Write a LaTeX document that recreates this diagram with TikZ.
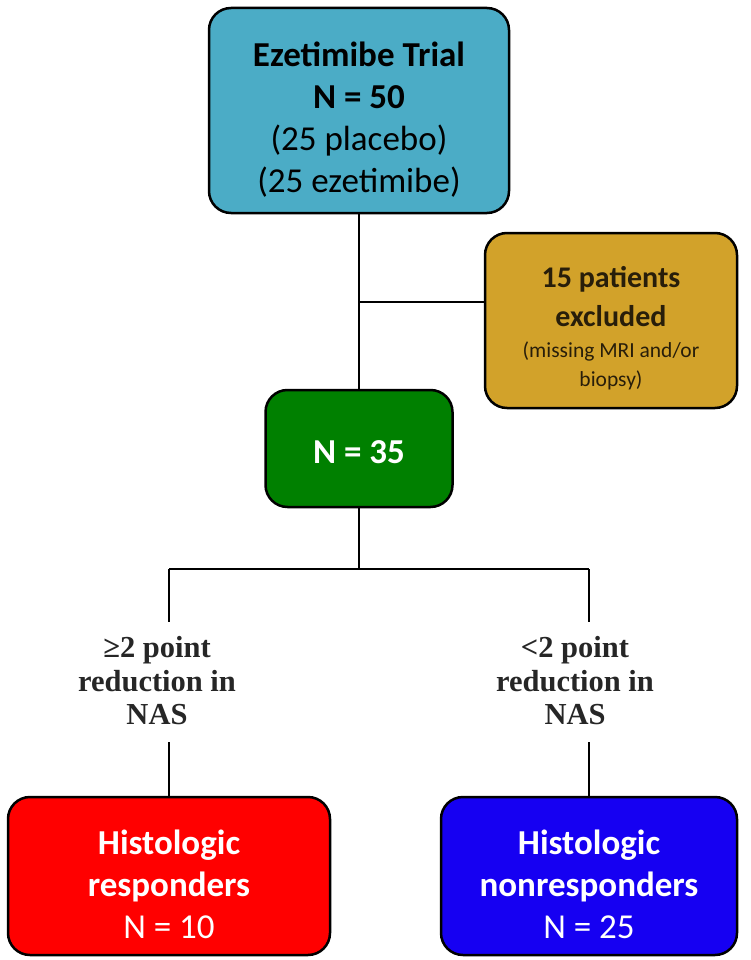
\documentclass[tikz,border=0pt]{standalone}
\usepackage{fontspec}
\setmainfont{Carlito}
\newfontfamily\labelfont{Liberation Serif}
\definecolor{trialblue}{RGB}{75,172,198}
\definecolor{exclgold}{RGB}{210,162,42}
\definecolor{exclink}{RGB}{40,30,10}
\definecolor{n35green}{RGB}{0,128,0}
\definecolor{respred}{RGB}{255,0,0}
\definecolor{nonrespblue}{RGB}{22,0,242}
\newcommand{\topstrut}[1]{\rule{0pt}{#1}}
\begin{document}
\begin{tikzpicture}[x=1pt,y=-1pt,
  box/.style={draw=black,line width=2.5pt,rounded corners=22pt,align=center,inner sep=0pt},
  conn/.style={draw,line width=1.6pt},
  cond/.style={align=center,text=black!85,font=\labelfont\bfseries\fontsize{30.5}{33.5}\selectfont}]
\useasboundingbox (0,0) rectangle (751,960);

% boxes
\node[box,fill=trialblue,minimum width=300,minimum height=205,
  font=\fontsize{35}{42}\selectfont] (trial) at (359,110.5)
  {\topstrut{42pt}\textbf{Ezetimibe Trial}\\ \textbf{N = 50}\\ (25 placebo)\\ (25 ezetimibe)};
\node[box,fill=exclgold,text=exclink,minimum width=252,minimum height=175,
  font=\fontsize{30}{36}\selectfont] (excl) at (611,320.5)
  {\topstrut{36pt}\textbf{15 patients}\\[3pt] \textbf{excluded}\\[-5pt]
   {\fontsize{21.5}{29}\selectfont (missing MRI and/or}\\[-7pt]
   {\fontsize{21.5}{29}\selectfont biopsy)}};
\node[box,fill=n35green,text=white,minimum width=187,minimum height=117,
  font=\bfseries\fontsize{35}{42}\selectfont] (n35) at (359,448.5) {\topstrut{30pt}N = 35};
\node[box,fill=respred,text=white,minimum width=322,minimum height=158,
  font=\fontsize{35}{42}\selectfont] (resp) at (169,876)
  {\topstrut{42pt}\textbf{Histologic}\\ \textbf{responders}\\ N = 10};
\node[box,fill=nonrespblue,text=white,minimum width=296,minimum height=158,
  font=\fontsize{35}{42}\selectfont] (nonresp) at (589,876)
  {\topstrut{42pt}\textbf{Histologic}\\ \textbf{nonresponders}\\ N = 25};

% branch labels
\node[cond] (lab1) at (157,681) {≥2 point\\ reduction in\\ NAS};
\node[cond] (lab2) at (575,681) {<2 point\\ reduction in\\ NAS};

% connectors
\coordinate (j1) at (359,302);
\coordinate (split) at (359,569);
\coordinate (lsplit) at (split -| resp);
\coordinate (rsplit) at (split -| nonresp);
\path[conn] (trial) -- (n35);
\path[conn] (j1) -- (j1 -| excl.west);
\path[conn] (n35) -- (split);
\path[conn] (lsplit) -- (rsplit);
\path[conn] (lsplit) -- ++(0,53);
\path[conn] (rsplit) -- ++(0,53);
\path[conn] (resp.north) -- ++(0,-54);
\path[conn] (nonresp.north) -- ++(0,-54);
\end{tikzpicture}
\end{document}
